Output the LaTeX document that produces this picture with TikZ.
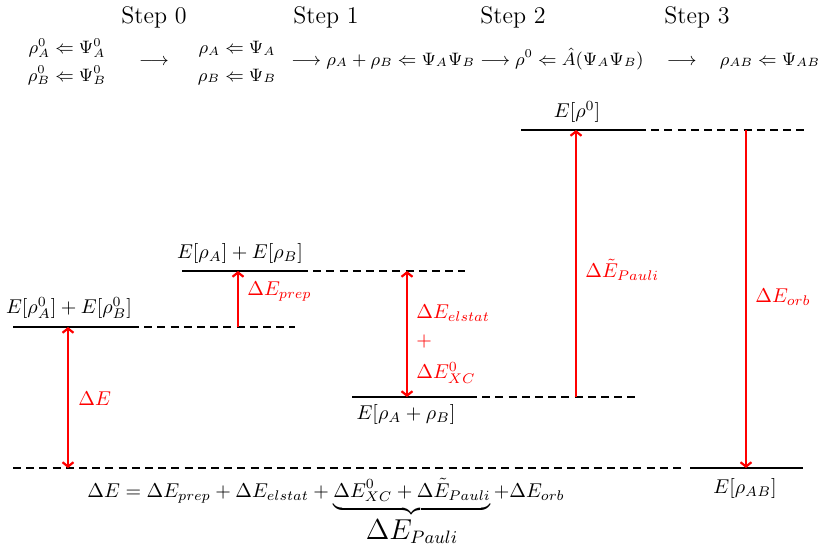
\documentclass[tikz,border=0pt]{standalone}
\usepackage{amsmath}
\usetikzlibrary{arrows.meta}
\begin{document}
\begin{tikzpicture}[x=0.5pt,y=-0.5pt,
  level/.style={line width=1.1pt},
  ext/.style={line width=1.1pt, dash pattern=on 4pt off 2.6pt},
  en/.style={red, line width=1.1pt},
  tipup/.style={-{Straight Barb[length=2.2pt,width=5.5pt]}},
  tipboth/.style={{Straight Barb[length=2.2pt,width=5.5pt]}-{Straight Barb[length=2.2pt,width=5.5pt]}},
  rlab/.style={red, anchor=west, inner sep=0pt},
  lab/.style={inner sep=0pt},
  toplab/.style={inner sep=0pt, font=\small},
  steplab/.style={font=\large, inner sep=0pt}]
\useasboundingbox (0,0) rectangle (831,546);

% ---- step labels
\node[steplab] (s0) at (154,17) {Step 0};
\node[steplab] (s1) at (326,17) {Step 1};
\node[steplab] (s2) at (513,17) {Step 2};
\node[steplab] (s3) at (697,17) {Step 3};

% ---- top row
\node[toplab, anchor=base] (r0a) at (67,54) {$\rho^0_A \Leftarrow \Psi^0_A$};
\node[toplab, anchor=base] (r0b) at (67,81) {$\rho^0_B \Leftarrow \Psi^0_B$};
\node[toplab, anchor=base] (ar1) at (154,65) {$\longrightarrow$};
\node[toplab, anchor=base] (r1a) at (237,54) {$\rho_A \Leftarrow \Psi_A$};
\node[toplab, anchor=base] (r1b) at (237,81) {$\rho_B \Leftarrow \Psi_B$};
\node[toplab, anchor=base west] (row) at (291,65)
  {$\longrightarrow \rho_A+\rho_B \Leftarrow \Psi_A\Psi_B \longrightarrow \rho^0 \Leftarrow \hat{A}(\Psi_A\Psi_B) \quad\longrightarrow\quad \rho_{AB}\Leftarrow\Psi_{AB}$};

% ---- level coordinates
\coordinate (l0a) at (13,327);  \coordinate (l0b) at (131,327); \coordinate (l0c) at (295,327);
\coordinate (l1a) at (182,271); \coordinate (l1b) at (300,271); \coordinate (l1c) at (465,271);
\coordinate (l2a) at (352,397); \coordinate (l2b) at (469,397); \coordinate (l2c) at (635,397);
\coordinate (l3a) at (521,130); \coordinate (l3b) at (638,130); \coordinate (l3c) at (804,130);
\coordinate (l4a) at (690,468); \coordinate (l4b) at (803,468);
\coordinate (bsa) at (13,468);  \coordinate (bsb) at (686,468);

% ---- levels
\draw[level] (l0a) -- (l0b);
\draw[ext] (l0b) -- (l0c);
\draw[level] (l1a) -- (l1b);
\draw[ext] (l1b) -- (l1c);
\draw[level] (l2a) -- (l2b);
\draw[ext] (l2b) -- (l2c);
\draw[level] (l3a) -- (l3b);
\draw[ext] (l3b) -- (l3c);
\draw[level] (l4a) -- (l4b);
\draw[ext] (bsa) -- (bsb);

% ---- level labels
\node[lab] (e0) at (69,308) {$E[\rho_A^0]+E[\rho_B^0]$};
\node[lab] (e1) at (240,253) {$E[\rho_A]+E[\rho_B]$};
\node[lab] (e2) at (406,414) {$E[\rho_A+\rho_B]$};
\node[lab] (e3) at (577,112) {$E[\rho^0]$};
\node[lab] (e4) at (745,488) {$E[\rho_{AB}]$};

% ---- energy arrows
\coordinate (dEb) at (68,468);  \coordinate (dEt) at (68,327);
\coordinate (dPb) at (238,327); \coordinate (dPt) at (238,271);
\coordinate (dXt) at (407,271); \coordinate (dXb) at (407,397);
\coordinate (dUb) at (576,397); \coordinate (dUt) at (576,130);
\coordinate (dOt) at (746,130); \coordinate (dOb) at (746,468);
\draw[en, tipboth] (dEb) -- (dEt);
\draw[en, tipup] (dPb) -- (dPt);
\draw[en, tipboth] (dXt) -- (dXb);
\draw[en, tipup] (dUb) -- (dUt);
\draw[en, tipup] (dOt) -- (dOb);

% ---- energy labels
\node[rlab] (tE) at (78,399) {$\Delta E$};
\node[rlab] (tP) at (247,292) {$\Delta E_{prep}$};
\node[rlab] (tX1) at (416,313) {$\Delta E_{elstat}$};
\node[rlab] (tX2) at (416,341) {$+$};
\node[rlab] (tX3) at (416,373) {$\Delta E^0_{XC}$};
\node[rlab] (tU) at (585,270) {$\Delta \tilde{E}_{Pauli}$};
\node[rlab] (tO) at (755,297) {$\Delta E_{orb}$};

% ---- decomposition
\node[lab, anchor=base west] (eq) at (87,497)
  {$\Delta E = \Delta E_{prep} + \Delta E_{elstat} + \underbrace{\Delta E^0_{XC} + \Delta\tilde{E}_{Pauli}}_{\raisebox{2pt}{\fontsize{13.5}{15}\selectfont$\Delta E_{Pauli}$}} +\Delta E_{orb}$};
\end{tikzpicture}
\end{document}
